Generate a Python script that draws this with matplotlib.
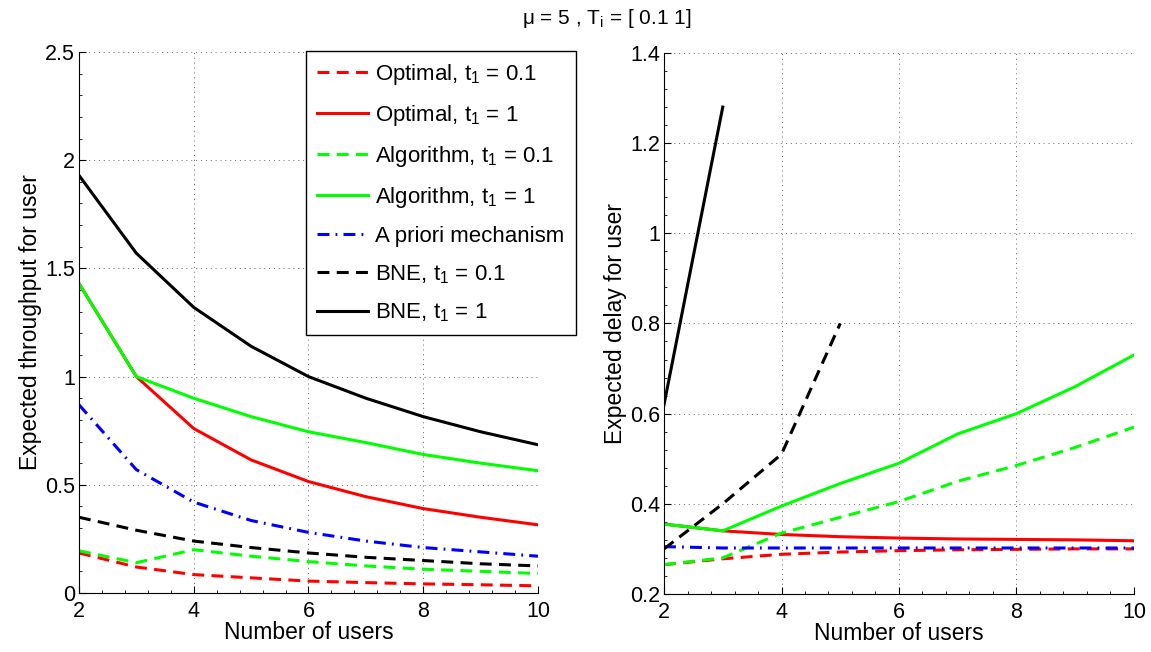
import numpy as np
import matplotlib
matplotlib.use('Agg')
import matplotlib.pyplot as plt
from matplotlib.ticker import AutoMinorLocator

plt.rcParams['font.family'] = ['Liberation Sans', 'DejaVu Sans']
plt.rcParams['mathtext.fontset'] = 'custom'
plt.rcParams['mathtext.rm'] = 'Liberation Sans'
plt.rcParams['mathtext.it'] = 'Liberation Sans'

# Datos
usuarios = [2, 3, 4, 5, 6, 7, 8, 9, 10]

# Throughput esperado (panel izquierdo)
thr_opt_01 = [0.185, 0.12, 0.085, 0.07, 0.055, 0.048, 0.042, 0.038, 0.033]
thr_opt_1 = [1.43, 1.0, 0.76, 0.615, 0.515, 0.445, 0.39, 0.35, 0.315]
thr_alg_01 = [0.195, 0.14, 0.20, 0.17, 0.145, 0.125, 0.11, 0.10, 0.09]
thr_alg_1 = [1.43, 1.0, 0.90, 0.815, 0.745, 0.695, 0.64, 0.60, 0.565]
thr_apriori = [0.87, 0.57, 0.42, 0.335, 0.28, 0.24, 0.21, 0.19, 0.17]
thr_bne_01 = [0.35, 0.29, 0.24, 0.21, 0.185, 0.165, 0.15, 0.135, 0.125]
thr_bne_1 = [1.93, 1.57, 1.32, 1.14, 1.0, 0.90, 0.815, 0.745, 0.685]

# Retardo esperado (panel derecho)
del_opt_01 = [0.265, 0.278, 0.288, 0.293, 0.296, 0.298, 0.299, 0.30, 0.30]
del_opt_1 = [0.355, 0.34, 0.332, 0.327, 0.324, 0.322, 0.321, 0.32, 0.318]
del_alg_01 = [0.265, 0.28, 0.335, 0.37, 0.405, 0.45, 0.485, 0.525, 0.57]
del_alg_1 = [0.355, 0.34, 0.395, 0.445, 0.49, 0.555, 0.60, 0.66, 0.73]
del_apriori = [0.305, 0.302, 0.302, 0.302, 0.302, 0.302, 0.302, 0.302, 0.302]
usuarios_bne_01 = [2, 3, 4, 5]
del_bne_01 = [0.30, 0.40, 0.51, 0.80]
usuarios_bne_1 = [2, 3]
del_bne_1 = [0.62, 1.28]

etiquetas = ['Optimal, t$_{1}$ = 0.1', 'Optimal, t$_{1}$ = 1',
             'Algorithm, t$_{1}$ = 0.1', 'Algorithm, t$_{1}$ = 1',
             'A priori mechanism', 'BNE, t$_{1}$ = 0.1', 'BNE, t$_{1}$ = 1']

lw = 2.2
guion = (3.9, 2.4)
guion_punto = (3.9, 2.0, 0.6, 2.0)

fig = plt.figure(figsize=(11.51, 6.52), dpi=100)
ax1 = fig.add_axes([0.0686, 0.0905, 0.3988, 0.8298])
ax2 = fig.add_axes([0.5769, 0.0890, 0.4083, 0.8298])

ax1.plot(usuarios, thr_opt_01, color='red', lw=lw, dashes=guion, label=etiquetas[0])
ax1.plot(usuarios, thr_opt_1, color='red', lw=lw, label=etiquetas[1])
ax1.plot(usuarios, thr_alg_01, color=(0, 1, 0), lw=lw, dashes=guion, label=etiquetas[2])
ax1.plot(usuarios, thr_alg_1, color=(0, 1, 0), lw=lw, label=etiquetas[3])
ax1.plot(usuarios, thr_apriori, color='blue', lw=lw, dashes=guion_punto, label=etiquetas[4])
ax1.plot(usuarios, thr_bne_01, color='black', lw=lw, dashes=guion, label=etiquetas[5])
ax1.plot(usuarios, thr_bne_1, color='black', lw=lw, label=etiquetas[6])

ax2.plot(usuarios, del_opt_01, color='red', lw=lw, dashes=guion)
ax2.plot(usuarios, del_opt_1, color='red', lw=lw)
ax2.plot(usuarios, del_alg_01, color=(0, 1, 0), lw=lw, dashes=guion)
ax2.plot(usuarios, del_alg_1, color=(0, 1, 0), lw=lw)
ax2.plot(usuarios, del_apriori, color='blue', lw=lw, dashes=guion_punto)
ax2.plot(usuarios_bne_01, del_bne_01, color='black', lw=lw, dashes=guion)
ax2.plot(usuarios_bne_1, del_bne_1, color='black', lw=lw)

ax1.set_xlim(2, 10)
ax1.set_ylim(0, 2.5)
ax1.set_xticks([2, 4, 6, 8, 10])
ax1.set_yticks([0, 0.5, 1, 1.5, 2, 2.5])
ax1.set_yticklabels(['0', '0.5', '1', '1.5', '2', '2.5'])
ax1.set_ylabel('Expected throughput for user', fontsize=16.5, labelpad=2)

ax2.set_xlim(2, 10)
ax2.set_ylim(0.2, 1.4)
ax2.set_xticks([2, 4, 6, 8, 10])
ax2.set_yticks([0.2, 0.4, 0.6, 0.8, 1.0, 1.2, 1.4])
ax2.set_yticklabels(['0.2', '0.4', '0.6', '0.8', '1', '1.2', '1.4'])
ax2.set_ylabel('Expected delay for user', fontsize=16.5, labelpad=2)

for ax in (ax1, ax2):
    ax.set_xlabel('Number of users', fontsize=16.5, labelpad=-1)
    ax.grid(True, linestyle=(0, (1, 4)), color='black', lw=0.7, alpha=0.6)
    ax.spines['top'].set_visible(False)
    ax.spines['right'].set_visible(False)
    ax.xaxis.set_minor_locator(AutoMinorLocator(5))
    ax.yaxis.set_minor_locator(AutoMinorLocator(5))
    ax.tick_params(which='major', direction='in', length=5, labelsize=15.5, pad=3)
    ax.tick_params(axis='x', which='major', pad=6)
    ax.tick_params(which='minor', direction='in', length=2.5)

leg = ax1.legend(loc='upper left', bbox_to_anchor=(0.2659, 0.4893, 0.2345, 0.4325),
                 bbox_transform=fig.transFigure, mode='expand', fontsize=16,
                 handlelength=2.3, handletextpad=0.3, labelspacing=0.72, borderaxespad=0,
                 fancybox=False, framealpha=1, edgecolor='black', borderpad=0.5)
leg.get_frame().set_linewidth(1.0)

fig.text(0.527, 0.972, 'μ = 5 , T$_{\\mathrm{i}}$ = [ 0.1 1]', ha='center', va='center', fontsize=15)

plt.savefig('out.png', dpi=100)
